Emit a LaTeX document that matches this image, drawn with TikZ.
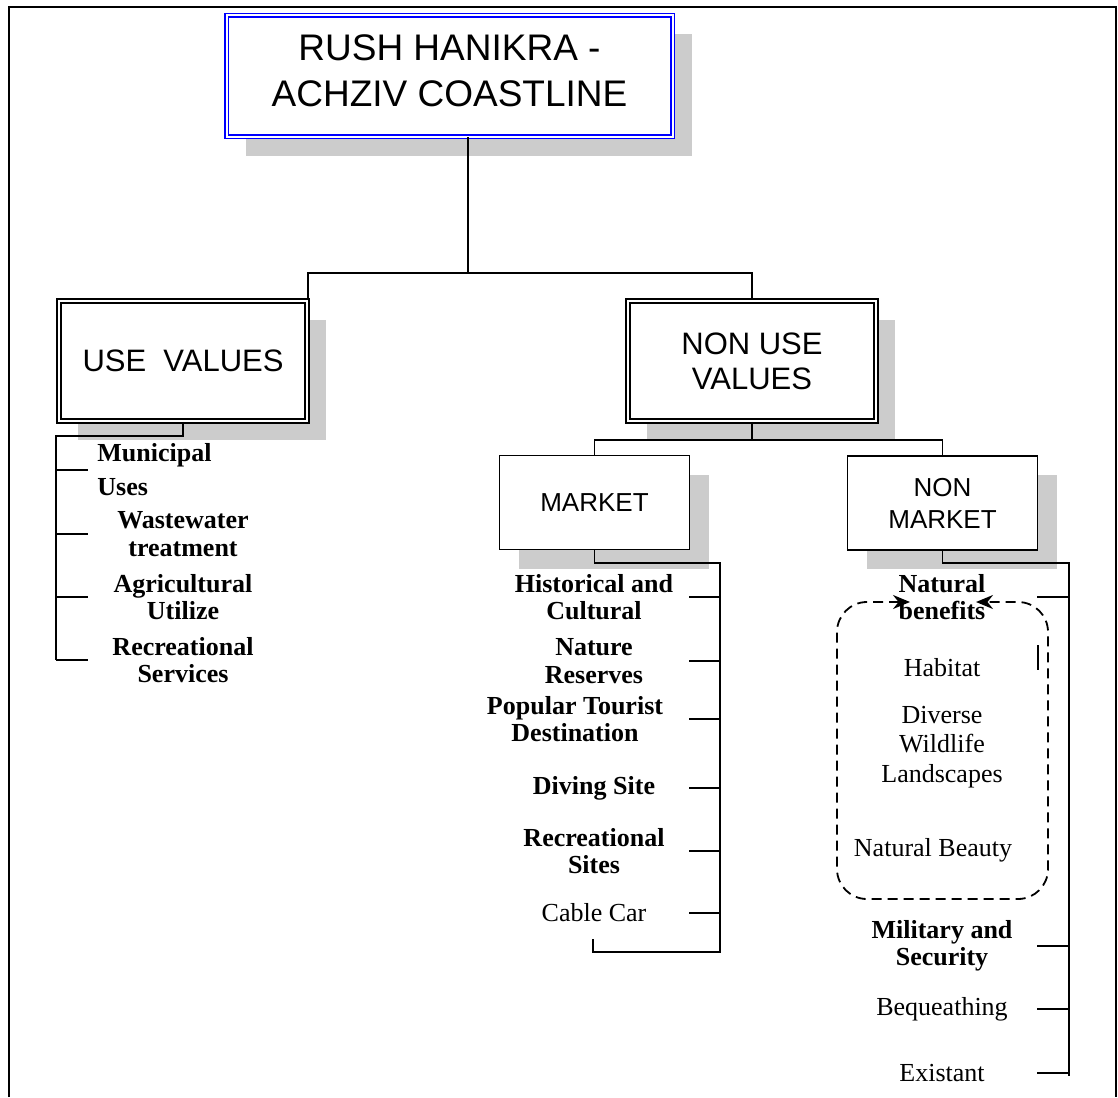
\documentclass[tikz,border=0pt]{standalone}
\usepackage{fontspec}
\setmainfont{Liberation Serif}
\newfontfamily\arialfont{Liberation Sans}
\usetikzlibrary{arrows.meta, shadows}

\begin{document}
\begin{tikzpicture}[
    x=0.5pt, y=-0.5pt,
    every node/.style={inner sep=0pt},
    boxshadow/.style={drop shadow={shadow xshift=9.5pt, shadow yshift=-9.5pt, opacity=1, fill=black!20}},
    titlebox/.style={rectangle, draw=blue, double=white, line width=0.8pt, double distance=1pt, fill=white, boxshadow, minimum width=223pt, minimum height=60.5pt, text depth=5pt, align=center, font=\arialfont\fontsize{18.5}{23}\selectfont},
    valbox/.style={rectangle, draw, double=white, line width=0.9pt, double distance=0.9pt, fill=white, boxshadow, minimum width=124pt, minimum height=60pt, align=center, font=\arialfont\fontsize{15.5}{17.5}\selectfont},
    mktbox/.style={rectangle, draw, line width=0.6pt, fill=white, boxshadow, minimum width=95pt, minimum height=47pt, align=center, font=\arialfont\fontsize{13}{16}\selectfont},
    item/.style={align=center, font=\bfseries\fontsize{13}{13.7}\selectfont},
    plainitem/.style={align=center, font=\fontsize{13}{14.8}\selectfont},
    link/.style={line width=0.65pt},
    benefits/.style={line width=0.9pt, dash pattern=on 5pt off 3pt, rounded corners=15pt, {Stealth[length=8.5pt,width=7pt,sep=-1pt]}-{Stealth[length=8.5pt,width=7pt,sep=-1pt]}}
  ]
  \useasboundingbox (0,0) rectangle (1118,1097);
  \draw[line width=1pt] (9,1097) -- (9,7) -- (1116,7) -- (1116,1097);

  % boxes
  \node[titlebox] (coast) at (449.5,76) {RUSH HANIKRA -\\ACHZIV COASTLINE};
  \node[valbox] (usev) at (183,361) {USE\ \ VALUES};
  \node[valbox] (nonuse) at (752,361) {NON USE\\VALUES};
  \node[mktbox] (market) at (594.5,502.5) {MARKET};
  \node[mktbox] (nonmkt) at (942.5,503) {NON\\MARKET};

  \coordinate (top hub) at (468,273);
  \coordinate (nu hub) at (753,440);
  \draw[link] (coast.south -| top hub) -- (top hub);
  \draw[link] (usev.north east) |- (top hub) -| (nonuse.north);
  \draw[link] (nonuse.south) -- (nonuse.south |- nu hub);
  \draw[link] (market.north) |- (nu hub) -| (nonmkt.north);

  % use values
  \node[item, anchor=west, align=left, font=\bfseries\fontsize{13}{17}\selectfont] (u1) at (97,470) {Municipal\\Uses};
  \node[item] (u2) at (183,534) {Wastewater\\treatment};
  \node[item] (u3) at (183,597) {Agricultural\\Utilize};
  \node[item] (u4) at (183,660) {Recreational\\Services};
  \coordinate (use spine) at (56,436);
  \draw[link] (usev.south) |- (use spine) -- (use spine |- u4);
  \foreach \n in {u1,u2,u3,u4}
    \draw[link] (use spine |- \n) -- ++(32,0);

  % market
  \node[item] (m1) at (594,597) {Historical and\\Cultural};
  \node[item] (m2) at (594,661) {Nature\\Reserves};
  \node[item] (m3) at (575,719) {Popular Tourist\\Destination};
  \node[item] (m4) at (594,788) {Diving Site};
  \node[item] (m5) at (594,851) {Recreational\\Sites};
  \node[plainitem] (m6) at (594,913) {Cable Car};
  \coordinate (mkt spine) at (720,563);
  \coordinate (mkt end) at (720,952);
  \coordinate (mkt hook) at (593,939);
  \draw[link] (market.south) |- (mkt spine) -- (mkt end) -| (mkt hook);
  \foreach \n in {m1,m2,m3,m4,m5,m6}
    \draw[link] (mkt spine |- \n) -- ++(-31,0);

  % non market
  \node[item] (n1) at (942,597) {Natural\\benefits};
  \node[plainitem] (n2) at (942,668) {Habitat};
  \node[plainitem] (n3) at (942,747) {Diverse\\Wildlife\\Landscapes};
  \node[plainitem] (n4) at (933,850) {Natural Beauty};
  \node[item] (n5) at (942,946) {Military and\\Security};
  \node[plainitem] (n6) at (942,1009) {Bequeathing};
  \node[plainitem] (n7) at (942,1073) {Existant};
  \coordinate (nm spine) at (1069,563);
  \coordinate (nm end) at (1069,1076);
  \draw[link] (nonmkt.south) |- (nm spine) -- (nm end);
  \foreach \n in {n1,n5,n6,n7}
    \draw[link] (nm spine |- \n) -- ++(-32,0);

  \coordinate (nb left) at (908,602);
  \coordinate (nb right) at (978,602);
  \draw[benefits] (nb left) -- (837,602) -- (837,899) -- (1048,899) -- (1048,602) -- (nb right);
  \draw[link] (1038,645) -- (1038,670);
\end{tikzpicture}
\end{document}
